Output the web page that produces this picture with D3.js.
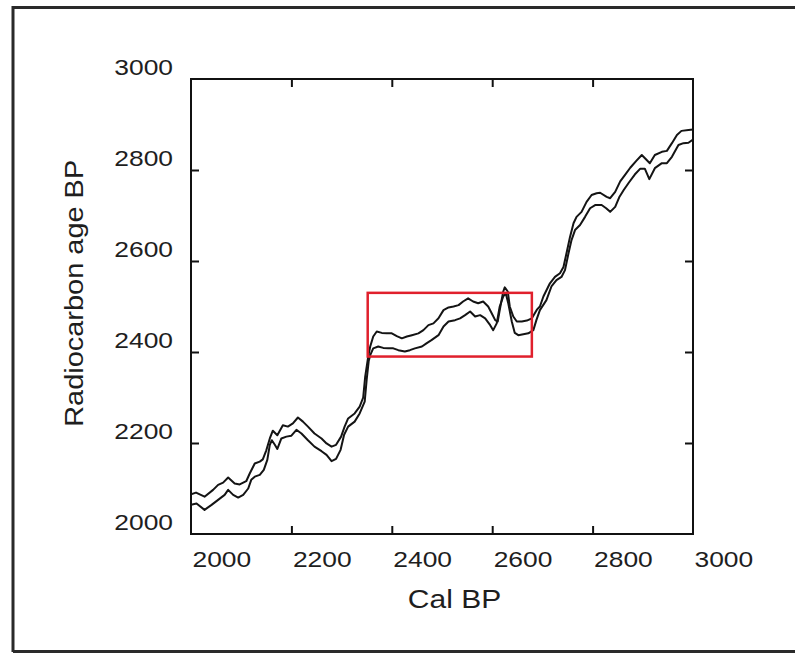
<!DOCTYPE html>
<html>
<head>
<meta charset="utf-8">
<script src="https://cdn.jsdelivr.net/npm/d3@7"></script>
<style>
  html, body { margin: 0; padding: 0; background: #fff; }
  svg { display: block; }
  text { font-family: "Liberation Sans", Arial, Helvetica, sans-serif; fill: #1e1e1e; }
</style>
</head>
<body>
<svg id="chart" width="795" height="653"></svg>
<script>
// ---- data ----
const xTickValues = [2000, 2200, 2400, 2600, 2800, 3000];
const yTickValues = [2000, 2200, 2400, 2600, 2800, 3000];
const xTitle = "Cal BP";
const yTitle = "Radiocarbon age BP";

const upperCal = [2000,2010,2027,2044,2054,2064,2074,2087,2097,2110,2117,2127,2137,2143,2150,2157,2163,2172,2183,2193,2203,2213,2223,2233,2246,2260,2270,2280,2289,2299,2306,2313,2326,2336,2343,2347,2353,2357,2363,2370,2380,2390,2400,2410,2420,2430,2440,2453,2463,2473,2483,2493,2503,2513,2523,2533,2542,2552,2562,2572,2582,2592,2599,2606,2611,2615,2622,2625,2631,2635,2642,2649,2659,2669,2679,2689,2695,2702,2715,2725,2735,2742,2748,2755,2762,2768,2778,2788,2798,2808,2815,2828,2835,2845,2855,2865,2875,2887,2898,2914,2924,2938,2948,2958,2968,2977,2991,3000];
const upperC14 = [2087,2091,2082,2097,2108,2113,2124,2111,2109,2116,2133,2155,2159,2164,2184,2210,2227,2217,2239,2236,2243,2256,2247,2236,2221,2210,2199,2192,2196,2214,2236,2254,2265,2280,2300,2346,2390,2412,2434,2445,2442,2441,2441,2435,2430,2434,2437,2441,2448,2459,2463,2474,2492,2498,2500,2503,2511,2518,2511,2507,2511,2500,2485,2470,2467,2492,2533,2542,2533,2500,2478,2467,2467,2469,2474,2493,2500,2522,2551,2565,2573,2587,2617,2653,2683,2697,2708,2730,2745,2749,2750,2741,2738,2752,2775,2790,2805,2820,2833,2815,2833,2840,2842,2859,2877,2886,2888,2889];

const lowerCal = [2000,2011,2027,2041,2054,2067,2074,2084,2094,2104,2114,2120,2127,2137,2145,2152,2157,2161,2167,2172,2180,2190,2200,2210,2220,2233,2246,2260,2270,2280,2289,2298,2305,2313,2326,2336,2346,2350,2354,2357,2363,2373,2383,2393,2403,2413,2426,2436,2446,2460,2469,2479,2493,2503,2513,2526,2536,2546,2556,2566,2576,2586,2596,2602,2609,2615,2622,2627,2632,2639,2645,2652,2662,2672,2682,2688,2695,2708,2718,2728,2738,2745,2752,2758,2765,2775,2785,2795,2805,2818,2827,2835,2845,2853,2862,2872,2884,2895,2904,2913,2924,2938,2948,2958,2971,2981,2991,3000];
const lowerC14 = [2064,2067,2053,2064,2075,2086,2097,2086,2080,2086,2100,2119,2126,2130,2141,2163,2196,2206,2196,2187,2210,2214,2216,2229,2221,2206,2192,2182,2174,2160,2165,2185,2218,2236,2247,2265,2291,2340,2380,2393,2408,2412,2409,2408,2408,2404,2401,2404,2408,2412,2419,2426,2437,2456,2467,2470,2474,2481,2489,2478,2481,2474,2459,2448,2463,2500,2522,2529,2507,2467,2442,2437,2439,2441,2448,2470,2492,2514,2544,2558,2565,2580,2617,2646,2668,2679,2697,2716,2723,2723,2716,2708,2719,2740,2756,2772,2790,2803,2803,2780,2804,2815,2815,2829,2855,2859,2860,2867];

// highlighted plateau box: cal range and radiocarbon range
const boxCal = [2352, 2679];
const boxC14 = [2390, 2530];

// ---- drawing ----
const svg = d3.select("#chart");
const x = d3.scaleLinear().domain([2000, 3000]).range([191, 693]);
const y = d3.scaleLinear().domain([2000, 3000]).range([534, 79]);

// outer figure border (top, left, bottom)
const border = svg.append("g").attr("stroke", "#2a2a2a").attr("stroke-width", 3).attr("fill", "none");
border.append("path").attr("d", "M13,652 L13,7.5 L795,7.5");
border.append("path").attr("d", "M13,651.5 L795,651.5");

// curves
const line = d3.line().x(d => x(d[0])).y(d => y(d[1])).curve(d3.curveLinear);
const upper = upperCal.map((c, i) => [c, upperC14[i]]);
const lower = lowerCal.map((c, i) => [c, lowerC14[i]]);
const plot = svg.append("g");
plot.append("defs").append("clipPath").attr("id", "clip")
  .append("rect").attr("x", x(2000)).attr("y", y(3000))
  .attr("width", x(3000) - x(2000)).attr("height", y(2000) - y(3000));
const curves = plot.append("g").attr("clip-path", "url(#clip)");
[upper, lower].forEach(s => {
  curves.append("path").datum(s).attr("d", line)
    .attr("fill", "none").attr("stroke", "#141414").attr("stroke-width", 2)
    .attr("stroke-linejoin", "round");
});

// red box
svg.append("rect")
  .attr("x", x(boxCal[0])).attr("y", y(boxC14[1]))
  .attr("width", x(boxCal[1]) - x(boxCal[0]))
  .attr("height", y(boxC14[0]) - y(boxC14[1]))
  .attr("fill", "none").attr("stroke", "#e0202c").attr("stroke-width", 2.5);

// axes ticks (inward) on all four sides
const innerX = xTickValues.slice(1, -1), innerY = yTickValues.slice(1, -1);
const tickLen = 8;
const axes = [
  svg.append("g").attr("transform", `translate(0,${y(2000)})`).call(d3.axisBottom(x).tickValues(innerX).tickSize(-tickLen).tickFormat("")),
  svg.append("g").attr("transform", `translate(0,${y(3000)})`).call(d3.axisTop(x).tickValues(innerX).tickSize(-tickLen).tickFormat("")),
  svg.append("g").attr("transform", `translate(${x(2000)},0)`).call(d3.axisLeft(y).tickValues(innerY).tickSize(-tickLen).tickFormat("")),
  svg.append("g").attr("transform", `translate(${x(3000)},0)`).call(d3.axisRight(y).tickValues(innerY).tickSize(-tickLen).tickFormat(""))
];
axes.forEach(a => {
  a.select(".domain").remove();
  a.selectAll(".tick line").attr("stroke", "#111").attr("stroke-width", 2);
});

// frame
svg.append("rect")
  .attr("x", x(2000)).attr("y", y(3000))
  .attr("width", x(3000) - x(2000)).attr("height", y(2000) - y(3000))
  .attr("fill", "none").attr("stroke", "#111").attr("stroke-width", 2);

// tick labels (horizontally stretched like the source image)
const stretch = 1.2;
svg.append("g").selectAll("text").data(yTickValues).join("text")
  .attr("transform", d => `translate(173,${y(d) - 4}) scale(${stretch},1)`)
  .attr("text-anchor", "end").attr("font-size", 22).text(d => d);

svg.append("g").selectAll("text").data(xTickValues).join("text")
  .attr("transform", d => `translate(${x(d) + 1.5},566.5) scale(${stretch},1)`)
  .attr("text-anchor", "start").attr("font-size", 22).text(d => d);

// axis titles
svg.append("text")
  .attr("transform", `translate(454.5,608) scale(${stretch},1)`)
  .attr("text-anchor", "middle").attr("font-size", 25).text(xTitle);

svg.append("text")
  .attr("transform", "translate(83,293.3) rotate(-90)")
  .attr("text-anchor", "middle").attr("font-size", 25)
  .attr("textLength", 267).attr("lengthAdjust", "spacingAndGlyphs")
  .text(yTitle);
</script>
</body>
</html>
